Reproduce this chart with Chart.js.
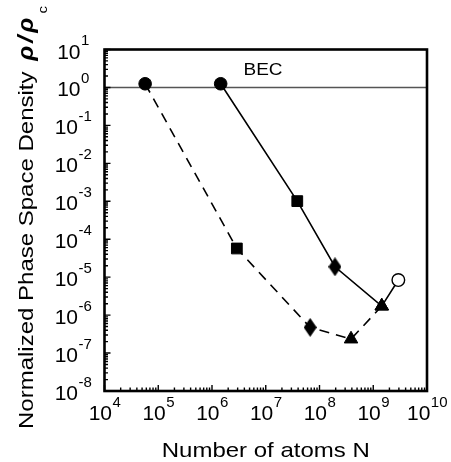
<!DOCTYPE html>
<html><head><meta charset="utf-8">
<script src="https://cdn.jsdelivr.net/npm/chart.js@4.4.1/dist/chart.umd.min.js"></script>
<style>html,body{margin:0;padding:0;background:#fff;} canvas{display:block;}</style>
</head><body>
<canvas id="c" width="451" height="462"></canvas>
<script>
// ---- data ----
const lowerN       = [5.7e4, 2.9e6, 6.7e7, 3.86e8, 1.44e9];
const lowerPSD     = [1.25, 5.7e-5, 4.75e-7, 2.34e-7, 1.73e-6];
const lowerMarkers = ['circle', 'square', 'diamond', 'triangle', 'triangle'];
const upperN       = [1.45e6, 3.86e7, 1.94e8, 1.44e9, 2.93e9];
const upperPSD     = [1.25, 1.01e-3, 1.88e-5, 1.73e-6, 8.4e-6];
const upperMarkers = ['circle', 'square', 'diamond', 'triangle', 'openCircle'];
const becRange     = [1e4, 1e10];
const becLevel     = 1;
const xTickExponents = [4, 5, 6, 7, 8, 9, 10];
const yTickExponents = [1, 0, -1, -2, -3, -4, -5, -6, -7, -8];
const xTitle = 'Number of atoms N';
const yTitleText = 'Normalized Phase Space Density ';
const yTitleSymbols = ['ρ', '/', 'ρ'];
const yTitleSub = 'c';
const becLabel = 'BEC';

const FONT = '"Liberation Sans", Arial, Helvetica, sans-serif';

function makeDiamond(w, h) {
  const c = document.createElement('canvas');
  c.width = w; c.height = h;
  const g = c.getContext('2d');
  g.fillStyle = '#000';
  g.beginPath();
  g.moveTo(w / 2, 0); g.lineTo(w, h / 2); g.lineTo(w / 2, h); g.lineTo(0, h / 2);
  g.closePath(); g.fill();
  return c;
}
const diamondImg = makeDiamond(13, 19);

const markerDefs = {
  circle:     {style: 'circle',   radius: 6.3, bg: '#000', bw: 1},
  square:     {style: 'rect',     radius: 7.6, bg: '#000', bw: 1},
  diamond:    {style: diamondImg, radius: 9.5, bg: '#000', bw: 0},
  triangle:   {style: 'triangle', radius: 7.8, bg: '#000', bw: 1},
  openCircle: {style: 'circle',   radius: 6.3, bg: '#fff', bw: 1.4}
};

function seriesDataset(xs, ys, markers, dash) {
  return {
    type: 'line',
    data: xs.map((x, i) => ({x: x, y: ys[i]})),
    borderColor: '#000',
    borderWidth: 1.6,
    borderDash: dash,
    tension: 0,
    fill: false,
    pointStyle: markers.map(m => markerDefs[m].style),
    pointRadius: markers.map(m => markerDefs[m].radius),
    pointBackgroundColor: markers.map(m => markerDefs[m].bg),
    pointBorderColor: '#000',
    pointBorderWidth: markers.map(m => markerDefs[m].bw),
    order: 1
  };
}

function drawPow(ctx, base, exp, cx, baseY, expY, baseFont, expFont) {
  ctx.font = baseFont;
  const wb = ctx.measureText(base).width;
  ctx.font = expFont;
  const we = ctx.measureText(exp).width;
  const start = cx - (wb + we) / 2;
  ctx.textAlign = 'left';
  ctx.textBaseline = 'alphabetic';
  ctx.font = baseFont;
  ctx.fillText(base, start, baseY);
  ctx.font = expFont;
  ctx.fillText(exp, start + wb + 0.5, expY);
}

const framePlugin = {
  id: 'frame',
  afterDatasetsDraw(chart) {
    const ctx = chart.ctx;
    const a = chart.chartArea;
    const xs = chart.scales.x, ys = chart.scales.y;
    ctx.save();
    ctx.fillStyle = '#000';
    ctx.strokeStyle = '#000';
    // frame
    ctx.lineWidth = 2.6;
    ctx.strokeRect(a.left, a.top, a.right - a.left, a.bottom - a.top);
    // ticks
    ctx.lineWidth = 1.4;
    ctx.beginPath();
    xTickExponents.forEach((e, i) => {
      const px = xs.getPixelForValue(Math.pow(10, e));
      ctx.moveTo(px, a.bottom); ctx.lineTo(px, a.bottom - 6);
      if (i < xTickExponents.length - 1) {
        for (let m = 2; m <= 9; m++) {
          const q = xs.getPixelForValue(m * Math.pow(10, e));
          ctx.moveTo(q, a.bottom); ctx.lineTo(q, a.bottom - 3.5);
        }
      }
    });
    yTickExponents.forEach((e) => {
      const py = ys.getPixelForValue(Math.pow(10, e));
      ctx.moveTo(a.left, py); ctx.lineTo(a.left + 6, py);
      if (e > yTickExponents[yTickExponents.length - 1]) {
        for (let m = 2; m <= 9; m++) {
          const q = ys.getPixelForValue(m * Math.pow(10, e - 1));
          ctx.moveTo(a.left, q); ctx.lineTo(a.left + 3.5, q);
        }
      }
    });
    ctx.stroke();

    const baseFont = '21px ' + FONT;
    const expFont = '15px ' + FONT;
    // x tick labels
    xTickExponents.forEach(e => {
      const px = xs.getPixelForValue(Math.pow(10, e));
      drawPow(ctx, '10', String(e), px, a.bottom + 29, a.bottom + 16, baseFont, expFont);
    });
    // y tick labels
    yTickExponents.forEach(e => {
      const py = ys.getPixelForValue(Math.pow(10, e));
      drawPow(ctx, '10', String(e), 73, py + 9, py - 4.5, baseFont, expFont);
    });

    // BEC label
    ctx.save();
    ctx.translate(xs.getPixelForValue(Math.pow(10, 6.95)), 75);
    ctx.scale(1, 0.87);
    ctx.font = '19px ' + FONT;
    ctx.textAlign = 'center';
    ctx.fillText(becLabel, 0, 0);
    ctx.restore();

    // x title
    ctx.save();
    ctx.translate((a.left + a.right) / 2, 457);
    ctx.scale(1, 0.85);
    ctx.font = '24px ' + FONT;
    ctx.textAlign = 'center';
    ctx.fillText(xTitle, 0, 0);
    ctx.restore();

    // y title (rotated)
    ctx.save();
    ctx.translate(33, 429);
    ctx.rotate(-Math.PI / 2);
    ctx.scale(1, 0.85);
    ctx.textAlign = 'left';
    ctx.font = '24px ' + FONT;
    ctx.fillText(yTitleText, 0, 0);
    let off = ctx.measureText(yTitleText).width + 4;
    ctx.font = 'italic bold 25px ' + FONT;
    yTitleSymbols.forEach(s => {
      ctx.fillText(s, off, 0);
      off += ctx.measureText(s).width + 3;
    });
    ctx.font = '15px ' + FONT;
    ctx.fillText(yTitleSub, off + 1, 16);
    ctx.restore();

    ctx.restore();
  }
};

new Chart(document.getElementById('c'), {
  type: 'line',
  data: {
    datasets: [
      seriesDataset(upperN, upperPSD, upperMarkers, []),
      seriesDataset(lowerN, lowerPSD, lowerMarkers, [10, 7]),
      {
        type: 'line',
        data: becRange.map(x => ({x: x, y: becLevel})),
        borderColor: '#555',
        borderWidth: 1.6,
        pointRadius: 0,
        fill: false,
        order: 5
      }
    ]
  },
  options: {
    responsive: false,
    devicePixelRatio: 1,
    animation: false,
    events: [],
    layout: {padding: {left: 104.5, right: 24, top: 49.5, bottom: 71}},
    plugins: {legend: {display: false}, tooltip: {enabled: false}},
    scales: {
      x: {type: 'logarithmic', min: 1e4, max: 1e10, display: false},
      y: {type: 'logarithmic', min: 1e-8, max: 1e1, display: false}
    }
  },
  plugins: [framePlugin]
});
</script>
</body></html>
